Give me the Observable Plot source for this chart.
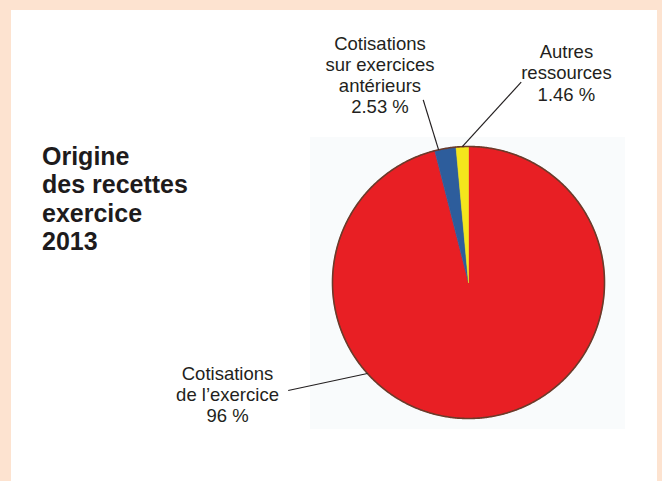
<!DOCTYPE html>
<html>
<head>
<meta charset="utf-8">
<script src="https://cdn.jsdelivr.net/npm/d3@7"></script>
<script src="https://cdn.jsdelivr.net/npm/@observablehq/plot@0.6"></script>
<style>
  html, body { margin: 0; padding: 0; }
  body { width: 662px; height: 481px; overflow: hidden; background: #fde3d0; }
  #wrap { position: relative; width: 662px; height: 481px; }
  #panel { position: absolute; left: 11px; top: 10px; width: 646px; height: 471px; background: #ffffff; }
  #haze { position: absolute; left: 310px; top: 137px; width: 315px; height: 292px; background: #f9fbfc; }
  #title { position: absolute; left: 42px; top: 142px; font-family: "Liberation Sans", Arial, sans-serif;
           font-weight: bold; font-size: 25px; line-height: 28.4px; color: #1e1b1c; }
  #chart { position: absolute; left: 0; top: 0; }
</style>
</head>
<body>
<div id="wrap">
  <div id="panel"></div>
  <div id="haze"></div>
  <div id="title">Origine<br>des recettes<br>exercice<br>2013</div>
  <div id="chart"></div>
</div>
<script>
// ---- data ----
const categories = ["Cotisations de l’exercice", "Cotisations sur exercices antérieurs", "Autres ressources"];
const values = [96, 2.53, 1.46];
const labelLines = ["Cotisations\nde l’exercice", "Cotisations\nsur exercices\nantérieurs", "Autres\nressources"];
const colors = ["#e81f24", "#2d5d9c", "#f4e61c"];

// ---- layout (pie-radius units, pie centred at 0,0) ----
const labelX = [-1.772, -0.651, 0.72];
const labelY = [-1.029, 1.245, 1.338];
const leaderStartX = [-1.326, -0.333, 0.3875];
const leaderStartY = [-0.794, 1.343, 1.473];
const leaderAngleDeg = [228, 347.3, 357.4];

const W = 662, H = 481, CX = 468, CY = 282, R = 136;

// pie geometry from d3.pie
const arcs = d3.pie().sort(null)(values);
const slicePts = [];
arcs.forEach((a, i) => {
  const n = Math.max(2, Math.ceil((a.endAngle - a.startAngle) / (Math.PI / 360)));
  slicePts.push({cat: categories[i], x: 0, y: 0});
  for (let k = 0; k <= n; k++) {
    const t = a.startAngle + (a.endAngle - a.startAngle) * k / n;
    slicePts.push({cat: categories[i], x: Math.sin(t), y: Math.cos(t)});
  }
  slicePts.push({cat: categories[i], x: 0, y: 0});
});
const ring = d3.range(0, 721).map(k => {
  const t = k / 720 * 2 * Math.PI;
  return {x: Math.sin(t), y: Math.cos(t)};
});

const labels = categories.map((c, i) => ({
  text: labelLines[i] + "\n" + values[i] + " %",
  x: labelX[i], y: labelY[i]
}));
const leaders = categories.map((c, i) => {
  const t = leaderAngleDeg[i] * Math.PI / 180;
  return {x1: leaderStartX[i], y1: leaderStartY[i], x2: Math.sin(t), y2: Math.cos(t)};
});

const chart = Plot.plot({
  width: W, height: H,
  margin: 0,
  style: {background: "transparent"},
  x: {domain: [-CX / R, (W - CX) / R], axis: null},
  y: {domain: [(CY - H) / R, CY / R], axis: null},
  color: {domain: categories, range: colors},
  marks: [
    Plot.line(slicePts, {x: "x", y: "y", z: "cat", fill: "cat", stroke: "cat", strokeWidth: 0.6, curve: "linear"}),
    Plot.line(ring, {x: "x", y: "y", stroke: "#6b3b2b", strokeWidth: 1.6, fill: "none"}),
    Plot.link(leaders, {x1: "x1", y1: "y1", x2: "x2", y2: "y2", stroke: "#231f20", strokeWidth: 1.2}),
    Plot.text(labels, {x: "x", y: "y", text: "text", textAnchor: "middle", lineAnchor: "bottom",
      lineHeight: 1.14, fontSize: 18.5, fill: "#231f20", fontFamily: "Liberation Sans, Arial, sans-serif"})
  ]
});
document.getElementById("chart").appendChild(chart);
</script>
</body>
</html>
